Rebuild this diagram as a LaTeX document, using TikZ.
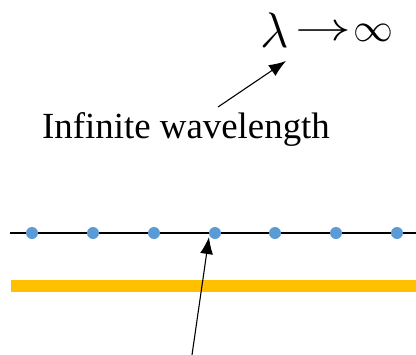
\RequirePackage{fix-cm}
\documentclass[tikz,border=0pt]{standalone}
\usepackage{amsmath}
\usepackage{amssymb}
\usepackage{fontspec}
\setmainfont{Liberation Serif}
\usepackage{tikz}
\usetikzlibrary{calc, arrows.meta}
\usepackage{xcolor}
\definecolor{dotblue}{HTML}{5B9BD5}
\definecolor{baryellow}{HTML}{FFC000}

\begin{document}
\begin{tikzpicture}[x=1bp, y=-1bp,
    pointer/.style={line width=1.1bp, -{Latex[length=17bp, width=13bp]}},
    lattice/.style={line width=1.4bp, black},
    sym/.style={anchor=base west, inner sep=0pt}]

    \useasboundingbox (0,0) rectangle (416,355);

    % 1. The limit label
    \node[sym, font=\fontsize{50}{52}\selectfont] (lam) at (260,47) {$\lambda$};
    \node[sym, font=\fontsize{40}{44}\selectfont] (arr) at (295,40) {\scalebox{1.4}[1]{$\rightarrow$}};
    \node[sym, font=\fontsize{40}{44}\selectfont] (inf) at (353,41) {$\infty$};

    % 2. Caption
    \node[sym, font=\fontsize{37}{40}\selectfont] (cap) at (42,138)
        {Infinite wavelength};

    % 3. Atom chain
    \coordinate (L0) at (10,233);
    \coordinate (L1) at (416,233);
    \draw[lattice] (L0) -- (L1);
    \foreach \x [count=\i] in {32, 93, 154, 215, 275, 336, 397} {
        \fill[dotblue] (\x,233) circle (6bp) coordinate (d\i);
    }

    % 4. Substrate
    \fill[baryellow] (11,280) rectangle (416,292);

    % 5. Pointers
    \coordinate (T1) at (218,107);
    \coordinate (H1) at (286,61);
    \draw[pointer] (T1) -- (H1);

    \coordinate (T2) at (192,355);
    \coordinate (H2) at (209,237);
    \draw[pointer] (T2) -- (H2);

\end{tikzpicture}
\end{document}
